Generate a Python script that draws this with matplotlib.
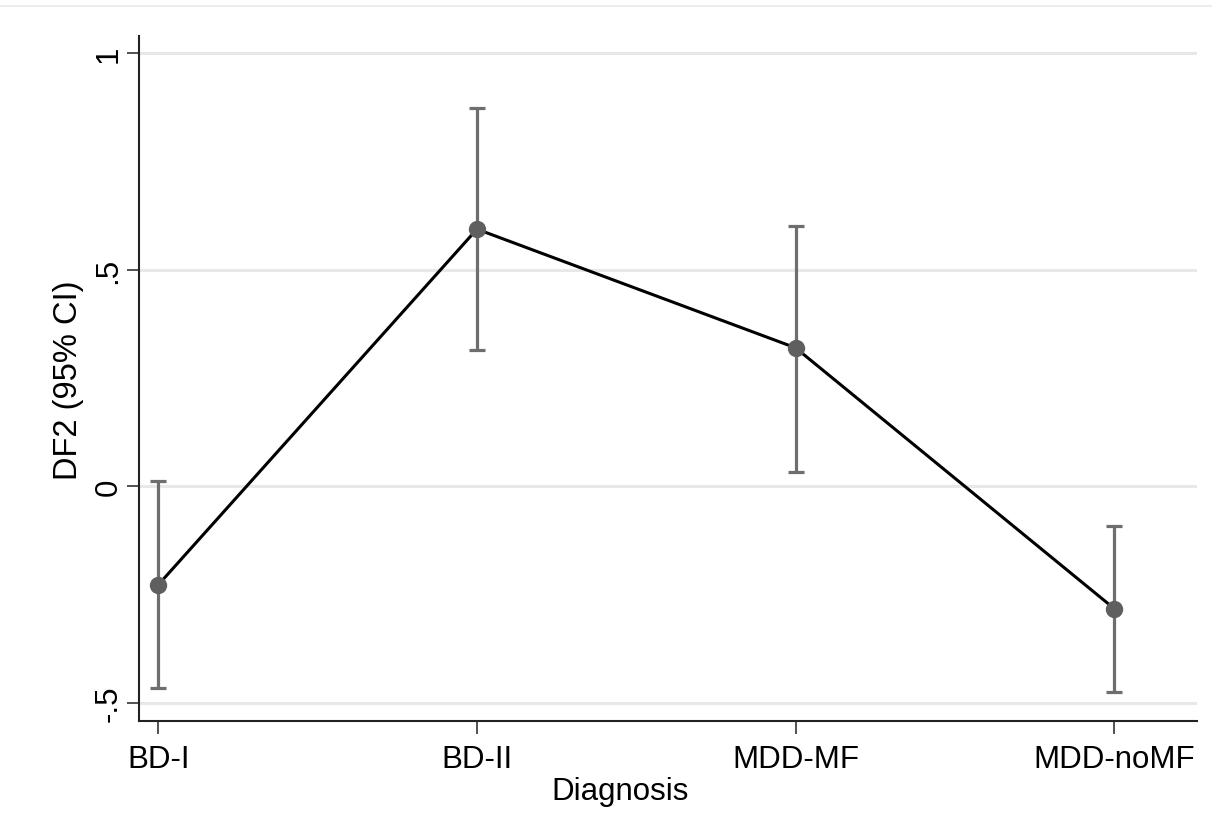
import numpy as np
import matplotlib.pyplot as plt
from matplotlib.lines import Line2D

#-- Data --------------------------------------------------
groups = ['BD-I', 'BD-II', 'MDD-MF', 'MDD-noMF']
means = [-0.227, 0.594, 0.320, -0.282]
ci_low = [-0.465, 0.315, 0.034, -0.475]
ci_high = [0.012, 0.873, 0.601, -0.092]
yticks = [-0.5, 0, 0.5, 1]
ytick_labels = ['-.5', '0', '.5', '1']

plt.rcParams['font.family'] = ['Liberation Sans', 'DejaVu Sans']

x = np.arange(1, len(groups) + 1)
means = np.array(means)
err = np.vstack([means - np.array(ci_low), np.array(ci_high) - means])

#-- Plot --------------------------------------------------
fig = plt.figure(figsize=(12.12, 8.29), dpi=100)
ax = fig.add_axes([0.1149, 0.1294, 0.8727, 0.826])

ax.errorbar(x, means, yerr=err, fmt='none', ecolor='#6e6e6e',
            elinewidth=2.3, capsize=5.8, capthick=2.3, zorder=2)
ax.plot(x, means, color='black', lw=2.2, zorder=3)
ax.plot(x, means, 'o', color='#5f5f5f', ms=11.5, zorder=4)

ax.set_xlim(0.94, 4.26)
ax.set_ylim(-0.541, 1.04)
ax.set_yticks(yticks)
ax.set_yticklabels(ytick_labels, rotation=90, va='center')
ax.set_xticks(x)
ax.set_xticklabels(groups)
ax.tick_params(axis='both', labelsize=22.5, length=9, width=1.2,
               color='#333333')
ax.tick_params(axis='x', pad=8)
ax.tick_params(axis='y', pad=2.5)

ax.yaxis.grid(True, color='#e8e8e8', lw=2.2)
ax.set_axisbelow(True)
for side in ['top', 'right']:
    ax.spines[side].set_visible(False)
for side in ['left', 'bottom']:
    ax.spines[side].set_linewidth(1.5)
    ax.spines[side].set_color('#222222')

fig.text(620 / 1212, 1 - 792 / 829, 'Diagnosis', fontsize=22.5,
         ha='center', va='center')
fig.text(68 / 1212, 1 - 380 / 829, 'DF2 (95% CI)', fontsize=23.5,
         ha='center', va='center', rotation=90)

# thin frame line at the top of the graph region
fig.add_artist(Line2D([0, 1], [1 - 6.5 / 829] * 2, color='#ececec',
                      lw=1.5, transform=fig.transFigure))

fig.savefig('out.png', dpi=100)
